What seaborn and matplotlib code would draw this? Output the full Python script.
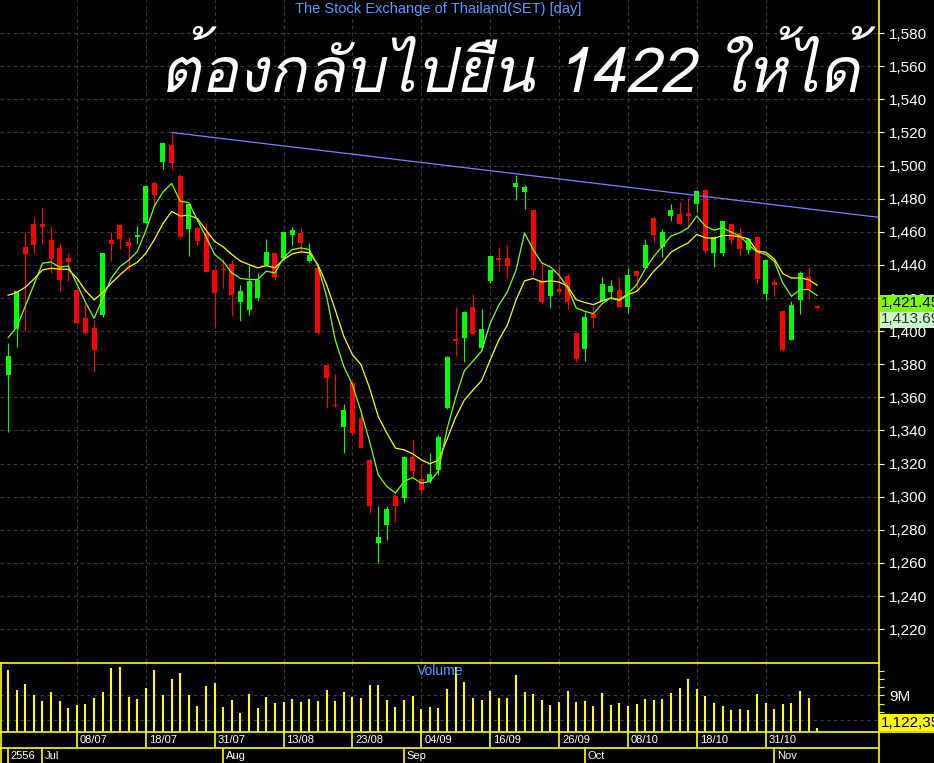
import os, glob
import numpy as np
import pandas as pd
import matplotlib
matplotlib.use("Agg")
import matplotlib.pyplot as plt
import seaborn as sns
from matplotlib import font_manager
from matplotlib.ft2font import FT2Font
from matplotlib.lines import Line2D
from matplotlib.transforms import blended_transform_factory

# ---------------- data ----------------
opens = [1373.4, 1401.0, 1450.7, 1464.6, 1464.6, 1454.9, 1450.1, 1444.1, 1425.1, 1407.8,
         1401.8, 1409.6, 1454.9, 1464.0, 1453.7, 1456.8, 1465.4, 1489.6, 1502.1, 1512.3,
         1493.6, 1461.6, 1462.4, 1459.0, 1437.0, 1437.8, 1440.8, 1417.5, 1412.6, 1420.3,
         1440.0, 1446.9, 1443.9, 1458.0, 1459.2, 1442.1, 1438.4, 1379.4, 1355.6, 1341.9,
         1368.9, 1347.7, 1321.9, 1272.3, 1283.2, 1300.7, 1299.5, 1323.7, 1310.6, 1309.2,
         1316.0, 1353.5, 1395.3, 1396.0, 1414.5, 1390.0, 1430.2, 1444.0, 1444.0, 1487.0,
         1484.0, 1473.0, 1430.8, 1421.3, 1425.3, 1433.2, 1399.0, 1389.1, 1410.3, 1418.1,
         1423.7, 1425.1, 1414.7, 1436.2, 1438.2, 1468.5, 1450.9, 1469.6, 1471.0, 1471.2,
         1476.6, 1485.0, 1447.3, 1447.3, 1464.6, 1459.3, 1449.1, 1456.7, 1422.4, 1429.8,
         1412.2, 1394.7, 1418.8, 1432.7, 1415.4]
highs = [1392.9, 1424.5, 1459.4, 1468.8, 1474.9, 1463.8, 1453.5, 1446.9, 1425.5, 1417.1,
         1406.0, 1447.5, 1459.8, 1464.6, 1457.0, 1463.4, 1488.0, 1490.6, 1513.8, 1519.8,
         1495.2, 1477.0, 1463.0, 1465.2, 1437.4, 1443.3, 1442.7, 1428.1, 1440.2, 1435.2,
         1455.4, 1447.2, 1460.0, 1463.2, 1462.0, 1453.1, 1439.0, 1380.0, 1374.3, 1356.2,
         1370.7, 1352.1, 1323.1, 1294.1, 1294.1, 1302.1, 1324.4, 1334.6, 1319.7, 1326.3,
         1337.4, 1385.0, 1414.3, 1412.0, 1422.3, 1413.3, 1445.5, 1450.7, 1451.9, 1494.1,
         1488.0, 1473.4, 1441.8, 1437.0, 1440.2, 1435.2, 1399.6, 1411.5, 1415.3, 1432.8,
         1430.8, 1432.8, 1438.2, 1436.8, 1455.9, 1469.3, 1461.4, 1476.6, 1478.2, 1480.6,
         1485.0, 1485.6, 1457.5, 1466.5, 1465.0, 1463.0, 1456.5, 1457.3, 1443.0, 1432.1,
         1412.8, 1418.4, 1436.5, 1438.7, 1415.8]
lows = [1339.1, 1390.5, 1400.0, 1447.3, 1452.7, 1435.4, 1424.1, 1430.2, 1404.5, 1398.4,
        1375.4, 1408.6, 1442.3, 1449.7, 1437.2, 1452.5, 1465.0, 1475.5, 1498.0, 1497.2,
        1456.8, 1445.5, 1451.9, 1435.6, 1403.3, 1426.1, 1409.0, 1406.0, 1410.0, 1418.1,
        1439.8, 1430.8, 1443.0, 1452.3, 1448.7, 1441.7, 1398.5, 1353.5, 1354.4, 1326.3,
        1338.0, 1329.2, 1290.4, 1260.2, 1273.9, 1285.0, 1296.5, 1312.4, 1302.0, 1308.2,
        1313.2, 1353.0, 1384.7, 1381.5, 1398.2, 1388.5, 1429.1, 1436.2, 1432.2, 1479.0,
        1473.6, 1433.8, 1416.3, 1414.1, 1423.5, 1413.3, 1381.5, 1381.9, 1402.0, 1418.0,
        1419.3, 1414.7, 1411.1, 1426.7, 1438.0, 1453.9, 1444.5, 1466.6, 1464.8, 1462.9,
        1472.0, 1446.9, 1438.9, 1445.3, 1452.9, 1445.3, 1446.5, 1428.6, 1419.0, 1421.2,
        1388.3, 1394.7, 1410.6, 1420.2, 1413.5]
closes = [1384.9, 1424.1, 1446.7, 1451.9, 1463.0, 1443.7, 1431.0, 1441.9, 1405.0, 1398.6,
          1388.7, 1447.1, 1452.7, 1455.7, 1451.5, 1458.0, 1487.6, 1482.3, 1513.6, 1501.5,
          1457.0, 1476.7, 1454.3, 1435.8, 1423.3, 1436.8, 1421.7, 1424.5, 1430.0, 1431.0,
          1447.7, 1432.8, 1459.6, 1460.8, 1453.5, 1446.1, 1398.9, 1371.5, 1354.6, 1352.1,
          1338.2, 1329.6, 1294.1, 1275.7, 1292.7, 1294.7, 1324.1, 1315.8, 1304.0, 1313.8,
          1336.2, 1384.5, 1394.0, 1411.5, 1398.4, 1401.2, 1445.2, 1443.0, 1439.2, 1489.4,
          1487.0, 1436.8, 1417.7, 1436.8, 1423.7, 1417.7, 1383.1, 1408.4, 1408.0, 1428.7,
          1427.5, 1414.7, 1433.8, 1433.4, 1451.9, 1458.1, 1459.6, 1473.0, 1464.8, 1469.6,
          1484.4, 1448.3, 1457.1, 1466.4, 1454.9, 1449.5, 1455.9, 1431.5, 1442.9, 1427.8,
          1388.7, 1415.8, 1435.1, 1425.4, 1413.69]
ma_short = [1396.0, 1402.3, 1415.0, 1428.0, 1441.0, 1441.8, 1438.6, 1439.4, 1428.5, 1417.5,
            1407.7, 1420.0, 1432.0, 1439.0, 1442.8, 1448.0, 1460.6, 1475.5, 1484.1, 1489.2,
            1478.5, 1477.6, 1467.0, 1457.0, 1446.3, 1442.0, 1435.2, 1431.8, 1431.2, 1431.2,
            1436.2, 1435.2, 1444.3, 1449.3, 1450.3, 1449.3, 1439.2, 1421.1, 1394.9, 1378.8,
            1367.7, 1351.5, 1333.4, 1313.2, 1306.2, 1302.2, 1309.2, 1311.6, 1308.2, 1309.2,
            1315.7, 1341.0, 1360.0, 1376.1, 1381.9, 1387.9, 1404.6, 1415.7, 1423.7, 1436.8,
            1459.3, 1449.2, 1441.2, 1438.8, 1433.8, 1426.1, 1414.0, 1412.0, 1410.5, 1416.5,
            1420.2, 1419.0, 1422.6, 1428.0, 1437.5, 1445.0, 1451.3, 1457.4, 1459.4, 1462.4,
            1469.5, 1463.4, 1461.0, 1462.4, 1459.8, 1457.4, 1452.3, 1447.9, 1446.3, 1442.2,
            1429.1, 1421.0, 1425.1, 1425.1, 1421.45]
ma_long = [1421.7, 1423.3, 1426.5, 1431.4, 1437.0, 1438.0, 1437.4, 1437.4, 1432.0, 1424.5,
           1418.9, 1423.3, 1429.0, 1434.0, 1438.6, 1441.5, 1447.0, 1455.3, 1465.0, 1472.3,
           1469.6, 1470.0, 1468.0, 1461.0, 1454.2, 1450.9, 1446.3, 1442.3, 1440.2, 1438.2,
           1439.6, 1438.2, 1443.3, 1446.7, 1447.9, 1447.3, 1440.2, 1428.1, 1413.0, 1396.9,
           1385.8, 1379.8, 1365.6, 1348.5, 1338.4, 1329.4, 1328.3, 1325.9, 1322.3, 1319.9,
           1322.0, 1334.8, 1348.0, 1358.4, 1364.4, 1370.0, 1382.5, 1394.6, 1403.6, 1418.7,
           1430.4, 1431.8, 1429.7, 1430.4, 1429.7, 1427.1, 1419.0, 1417.3, 1416.0, 1418.3,
           1420.0, 1418.6, 1422.0, 1424.0, 1429.4, 1436.3, 1441.2, 1447.7, 1450.7, 1453.3,
           1458.4, 1456.4, 1456.0, 1457.8, 1457.8, 1457.0, 1455.8, 1448.3, 1447.7, 1443.6,
           1434.7, 1432.1, 1432.1, 1431.1, 1427.7]
volume_m = [15.2, 10.3, 11.7, 9.1, 7.6, 9.8, 7.6, 6.0, 6.6, 6.9,
            8.3, 9.8, 15.6, 15.9, 8.6, 8.1, 10.8, 15.2, 9.1, 13.0,
            14.4, 9.1, 6.4, 11.3, 12.0, 6.2, 7.9, 4.7, 9.3, 5.9,
            8.6, 7.1, 7.4, 8.1, 7.4, 8.1, 7.6, 10.3, 7.6, 9.8,
            8.6, 8.3, 11.5, 11.5, 7.9, 6.2, 7.9, 8.8, 5.7, 6.2,
            5.9, 10.5, 15.9, 12.2, 8.3, 7.9, 10.0, 8.3, 8.3, 13.9,
            9.8, 9.3, 7.9, 6.6, 7.4, 10.0, 7.4, 7.6, 6.4, 9.6,
            6.6, 7.1, 6.4, 6.9, 8.1, 7.9, 8.1, 9.6, 10.8, 13.0,
            10.5, 8.8, 7.1, 6.4, 5.4, 5.7, 5.4, 9.3, 7.1, 5.7,
            6.9, 7.1, 10.0, 8.3, 1.12]
trend_idx = [19, 101.05]
trend_val = [1520.0, 1468.8]
date_idx = [8, 16, 24, 32, 40, 48, 56, 64, 72, 80, 88]
date_labels = ["08/07", "18/07", "31/07", "13/08", "23/08", "04/09", "16/09", "26/09", "08/10", "18/10", "31/10"]
month_idx = [0, 4, 25, 46, 67, 89]
month_labels = ["2556", "Jul", "Aug", "Sep", "Oct", "Nov"]
price_ticks = list(range(1220, 1581, 20))
vol_ticks = [3, 5, 7, 9, 11, 13, 15]
vol_tick_labels = ["3M", "", "", "9M", "", "", ""]
title = "The Stock Exchange of Thailand(SET) [day]"
headline = "ต้องกลับไปยืน 1422 ให้ได้"
last_ma_label = "1,421.45"
last_close_label = "1,413.69"
last_vol_label = "1,122,35"

df = pd.DataFrame({"idx": np.arange(len(closes)), "open": opens, "high": highs,
                   "low": lows, "close": closes, "ma_s": ma_short, "ma_l": ma_long,
                   "vol": volume_m})

# ---------------- fonts ----------------
def thai_fonts():
    paths = set(f.fname for f in font_manager.fontManager.ttflist)
    for d in ["/usr/share/fonts", "/usr/local/share/fonts",
              os.path.expanduser("~/.fonts"), os.path.expanduser("~/.local/share/fonts")]:
        for ext in ("ttf", "otf", "TTF", "OTF", "ttc"):
            paths.update(glob.glob(os.path.join(d, "**", "*." + ext), recursive=True))
    found = []
    for p in sorted(paths):
        try:
            cm = FT2Font(p).get_charmap()
            if 0x0E15 in cm and 0x0E49 in cm and 0x0031 in cm:
                found.append(p)
        except Exception:
            pass
    def score(p):
        n = os.path.basename(p).lower()
        s = 0
        if "oblique" in n or "italic" in n:
            s -= 10
        if "bold" in n:
            s += 5
        return s
    found.sort(key=score)
    return found

sns.set_style("dark")
plt.rcParams["font.family"] = ["Liberation Sans", "DejaVu Sans"]
tf = thai_fonts()
if tf:
    font_manager.fontManager.addfont(tf[0])
    thai_fp = font_manager.FontProperties(fname=tf[0], size=45, style="italic")
else:
    thai_fp = font_manager.FontProperties(family=["DejaVu Sans"], size=45, style="italic")

# ---------------- layout ----------------
W, H = 934, 763
fig = plt.figure(figsize=(W / 100, H / 100), dpi=100, facecolor="black")

def rect(x0, y0, x1, y1):
    return [x0 / W, 1 - y1 / H, (x1 - x0) / W, (y1 - y0) / H]

ax = fig.add_axes(rect(0, 0, 878, 662.3))
axv = fig.add_axes(rect(0, 662.3, 878, 732.3))
axd = fig.add_axes(rect(0, 732.3, 878, 747.3))
axm = fig.add_axes(rect(0, 747.3, 878, 763))

XL = (-0.93, 101.05)
GRID = "#3c3c3c"
for a in (ax, axv, axd, axm):
    a.set_facecolor("black")
    a.set_xlim(*XL)
    for s in a.spines.values():
        s.set_visible(False)
    a.grid(False)

# price panel grid
ax.set_ylim(1200, 1600)
for v in price_ticks:
    ax.axhline(v, color=GRID, lw=0.8, ls=(0, (3, 3)), zorder=1)
for i in date_idx:
    ax.axvline(i, color=GRID, lw=0.8, ls=(0, (3, 3)), zorder=1)
    axv.axvline(i, color=GRID, lw=0.8, ls=(0, (3, 3)), zorder=1)

# candles
up = df["close"] >= df["open"]
colors = np.where(up, "#00ff00", "#ff0000")
ax.vlines(df["idx"], df["low"], df["high"], colors=colors, lw=0.8, zorder=3)
body = (df["close"] - df["open"]).abs().clip(lower=0.9)
bottom = np.minimum(df["open"], df["close"])
ax.bar(df["idx"], body, bottom=bottom, width=0.58, color=colors, linewidth=0, zorder=3)

# moving averages
sns.lineplot(data=df, x="idx", y="ma_l", ax=ax, color="#ffff00", lw=0.9, zorder=4, legend=False)
sns.lineplot(data=df, x="idx", y="ma_s", ax=ax, color="#80ff00", lw=0.9, zorder=4, legend=False)
ax.plot(trend_idx, trend_val, color="#8080ff", lw=0.9, zorder=4)
ax.set_xlim(*XL)
ax.set_xlabel("")
ax.set_ylabel("")

ax.yaxis.tick_right()
ax.set_yticks(price_ticks)
ax.set_yticklabels([f"{v:,}" for v in price_ticks])
ax.tick_params(axis="y", colors="white", length=4, width=0.8, pad=4, labelsize=11)
ax.tick_params(axis="x", length=0, labelbottom=False, bottom=False)
ax.set_xticks([])

# volume panel
axv.set_ylim(0, 17.03)
for v in (3, 9):
    axv.axhline(v, color=GRID, lw=0.8, ls=(0, (3, 3)), zorder=1)
axv.vlines(df["idx"], 0, df["vol"], colors="#ffff00", lw=1.5, zorder=3)
axv.yaxis.tick_right()
axv.set_yticks(vol_ticks)
axv.set_yticklabels(vol_tick_labels)
axv.tick_params(axis="y", colors="#ffff00", length=4, width=0.8, pad=4, labelsize=11)
for lab in axv.get_yticklabels():
    lab.set_color("white")
axv.set_xticks([])
axv.text(0.5015, 0.87, "Volume", transform=axv.transAxes, ha="center", va="center",
         color="#5a9cff", fontsize=10)

# date row / month row
for a in (axd, axm):
    a.set_ylim(0, 1)
    a.set_xticks([])
    a.set_yticks([])
for i, lab in zip(date_idx, date_labels):
    axd.axvline(i, color="#ffff00", lw=1.2)
    axd.annotate(lab, (i, 0.5), xytext=(2.2, 0), textcoords="offset points",
                 color="white", fontsize=8, va="center", ha="left")
for i, lab in zip(month_idx, month_labels):
    axm.axvline(i, color="#ffff00", lw=1.2)
    axm.annotate(lab, (i, 0.45), xytext=(2.0, 0), textcoords="offset points",
                 color="white", fontsize=8, va="center", ha="left")

# borders
def fline(x0, y0, x1, y1, lw=1.2):
    fig.add_artist(Line2D([x0 / W, x1 / W], [1 - y0 / H, 1 - y1 / H],
                          color="#ffff00", lw=lw, transform=fig.transFigure, zorder=10))
fline(878.5, 0, 878.5, 763)
fline(0, 662.5, 878.5, 662.5)
fline(0, 732.3, 934, 732.3)
fline(0, 747.5, 878.5, 747.5)
fline(0.6, 662.5, 0.6, 763)

# right-side value tags
bt = blended_transform_factory(ax.transAxes, ax.transData)
ax.annotate(last_ma_label, xy=(1.0, ma_short[-1]), xycoords=bt, xytext=(2, -0.5),
            textcoords="offset points", ha="left", va="top", fontsize=11, color="black",
            annotation_clip=False, zorder=20,
            bbox=dict(boxstyle="square,pad=0.08", fc="#80ff00", ec="none"))
ax.annotate(last_close_label, xy=(1.0, ma_short[-1]), xycoords=bt, xytext=(2, -12),
            textcoords="offset points", ha="left", va="top", fontsize=11, color="#303030",
            annotation_clip=False, zorder=19,
            bbox=dict(boxstyle="square,pad=0.08", fc="#ccffcc", ec="none"))
btv = blended_transform_factory(axv.transAxes, axv.transData)
axv.annotate(last_vol_label, xy=(1.0, volume_m[-1]), xycoords=btv, xytext=(2, 3.5),
             textcoords="offset points", ha="left", va="center", fontsize=11, color="black",
             annotation_clip=False, zorder=20,
             bbox=dict(boxstyle="square,pad=0.1", fc="#ffff00", ec="none"))

# titles
fig.text(438 / W, 1 - 9.5 / H, title, ha="center", va="center", color="#5a9cff", fontsize=10.5)
fig.text(160 / W, 1 - 92 / H, headline, ha="left", va="baseline", color="white",
         fontproperties=thai_fp)

fig.savefig("out.png", dpi=100, facecolor="black")
